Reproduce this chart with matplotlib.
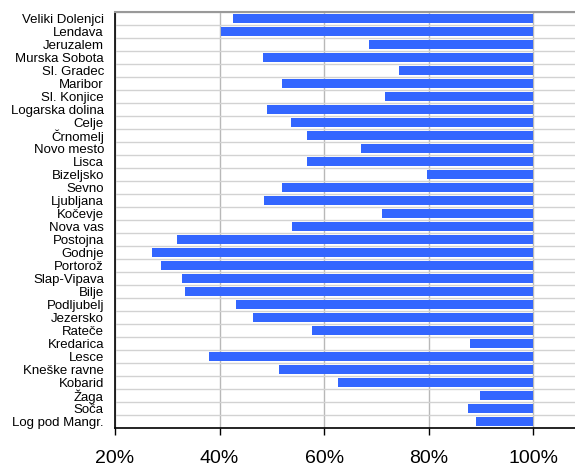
import matplotlib
matplotlib.use("Agg")
import matplotlib.pyplot as plt
import numpy as np
from matplotlib.ticker import FixedLocator, FuncFormatter

stations = ["Veliki Dolenjci", "Lendava", "Jeruzalem", "Murska Sobota", "Sl. Gradec",
            "Maribor", "Sl. Konjice", "Logarska dolina", "Celje", "Črnomelj",
            "Novo mesto", "Lisca", "Bizeljsko", "Sevno", "Ljubljana", "Kočevje",
            "Nova vas", "Postojna", "Godnje", "Portorož", "Slap-Vipava", "Bilje",
            "Podljubelj", "Jezersko", "Rateče", "Kredarica", "Lesce", "Kneške ravne",
            "Kobarid", "Žaga", "Soča", "Log pod Mangr."]
start_pct = [42.5, 40.3, 68.5, 48.3, 74.3, 51.9, 71.6, 49.0, 53.6, 56.7,
             67.0, 56.7, 79.6, 51.9, 48.5, 71.0, 53.8, 31.8, 27.1, 28.8,
             32.8, 33.4, 43.1, 46.4, 57.6, 88.0, 38.0, 51.3, 62.6, 89.9,
             87.6, 89.0]
end_pct = 100
xticks = [20, 40, 60, 80, 100]

fig = plt.figure(figsize=(5.75, 4.68), dpi=100)
ax = fig.add_axes([0.2, 0.0855, 0.8, 0.889])

n = len(stations)
y = np.arange(n)
ax.barh(y, [end_pct - s for s in start_pct], left=start_pct, height=0.67,
        color="#3366FF", zorder=3)

ax.set_xlim(20, 108)
ax.set_ylim(n - 0.5, -0.5)

ax.xaxis.set_major_locator(FixedLocator(xticks))
ax.xaxis.set_major_formatter(FuncFormatter(lambda v, p: f"{v:.0f}%"))
ax.set_yticks(y)
ax.set_yticklabels(stations)
ax.yaxis.set_minor_locator(FixedLocator(np.arange(n + 1) - 0.5))

ax.grid(axis="x", which="major", color="#b8b8b8", linewidth=1.0, zorder=0)
ax.grid(axis="y", which="minor", color="#d2d2d2", linewidth=1.0, zorder=0)

for lab in ax.get_yticklabels():
    lab.set_family(["Liberation Sans", "DejaVu Sans"])
    lab.set_fontsize(9.5)
for lab in ax.get_xticklabels():
    lab.set_family(["Liberation Sans", "DejaVu Sans"])
    lab.set_fontsize(14)

ax.tick_params(axis="y", which="both", length=0, pad=8, colors="black")
ax.tick_params(axis="x", which="major", length=5, width=1, direction="out", pad=11, color="black")

ax.spines["right"].set_visible(False)
ax.spines["top"].set_color("#999999")
ax.spines["top"].set_linewidth(1.5)
ax.spines["left"].set_color("black")
ax.spines["bottom"].set_color("black")
ax.spines["left"].set_linewidth(1.2)
ax.spines["bottom"].set_linewidth(1.2)

fig.savefig("out.png", dpi=100)
